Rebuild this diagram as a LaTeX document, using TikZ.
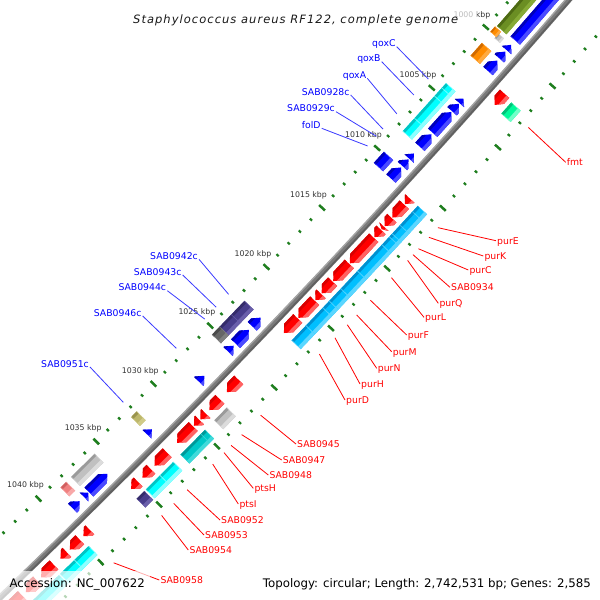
\documentclass[tikz,border=0pt]{standalone}
\usepackage{fontspec}
\setmainfont{DejaVu Sans}
\definecolor{redB}{HTML}{FF0000}\definecolor{redL}{HTML}{FF6262}\definecolor{redD}{HTML}{D80000}
\definecolor{bluB}{HTML}{0000FF}\definecolor{bluL}{HTML}{4A4AFF}\definecolor{bluD}{HTML}{0000B8}
\definecolor{aquaB}{HTML}{00FFFF}\definecolor{aquaL}{HTML}{8CFFFF}\definecolor{aquaD}{HTML}{00C4C4}
\definecolor{skyB}{HTML}{00BFFF}\definecolor{skyL}{HTML}{5AD6FF}\definecolor{skyD}{HTML}{0090D0}
\definecolor{tealB}{HTML}{00C8C8}\definecolor{tealL}{HTML}{40DADA}\definecolor{tealD}{HTML}{009898}
\definecolor{oliveB}{HTML}{6B8E23}\definecolor{oliveL}{HTML}{86AA36}\definecolor{oliveD}{HTML}{4E6A14}
\definecolor{orgB}{HTML}{FF8C00}\definecolor{orgL}{HTML}{FFAA40}\definecolor{orgD}{HTML}{D06A00}
\definecolor{silB}{HTML}{C0C0C0}\definecolor{silL}{HTML}{DCDCDC}\definecolor{silD}{HTML}{9A9A9A}
\definecolor{dgrB}{HTML}{666666}\definecolor{dgrL}{HTML}{808080}\definecolor{dgrD}{HTML}{4A4A4A}
\definecolor{slateB}{HTML}{483D8B}\definecolor{slateL}{HTML}{6A5FAA}\definecolor{slateD}{HTML}{352C6A}
\definecolor{khakiB}{HTML}{BDB76B}\definecolor{khakiL}{HTML}{D0CB88}\definecolor{khakiD}{HTML}{9A944E}
\definecolor{pinkB}{HTML}{F08080}\definecolor{pinkL}{HTML}{F8A8A8}\definecolor{pinkD}{HTML}{D06060}
\definecolor{sgB}{HTML}{00FA9A}\definecolor{sgL}{HTML}{70FFC8}\definecolor{sgD}{HTML}{00C078}
\definecolor{tickG}{HTML}{1E7E1E}
\definecolor{bbMid}{HTML}{7A7A7A}\definecolor{bbLight}{HTML}{A4A4A4}\definecolor{bbDark}{HTML}{606060}
\definecolor{kbpC}{HTML}{333333}
\definecolor{blueLine}{HTML}{3A3AFF}

% gene: u1, u2, vlo, vhi, scheme, shape (0 box, 1 arrow to -u, 2 arrow to +u)
\newcommand\gene[6]{%
 \pgfmathsetmacro\um{(#1+#2)/2}%
 \pgfmathsetmacro\hl{(#2-#1)/2}%
 \pgfmathsetmacro\hh{min(7,2*\hl)}%
 \pgfmathsetmacro\vm{(#3+#4)/2}%
 \pgfmathsetmacro\va{#3+0.22*(#4-#3)}%
 \pgfmathsetmacro\vb{#4-0.3*(#4-#3)}%
 \begin{scope}[along=\um]
  \begin{scope}
  \ifcase#6 \path[clip] (-\hl,#3) rectangle (\hl,#4);
  \or \path[clip] (-\hl,\vm) -- ({-\hl+\hh},#3) -- (\hl,#3) -- (\hl,#4) -- ({-\hl+\hh},#4) -- cycle;
  \or \path[clip] (\hl,\vm) -- ({\hl-\hh},#3) -- (-\hl,#3) -- (-\hl,#4) -- ({\hl-\hh},#4) -- cycle;
  \fi
  \fill[#5B] ({-\hl-1},{#3-1}) rectangle ({\hl+1},{#4+1});
  \fill[#5D] ({-\hl-1},{#3-1}) rectangle ({\hl+1},\va);
  \fill[#5L] ({-\hl-1},\vb) rectangle ({\hl+1},{#4+1});
  \ifnum#6=0 \draw[#5L, line width=0.7pt] (-\hl,#3) -- (-\hl,#4) (\hl,#3) -- (\hl,#4);\fi
  \end{scope}
 \end{scope}}
\newcommand\rorf[4]{\gene{#1}{#2}{7.5}{20}{#3}{#4}}
\newcommand\rsec[4]{\gene{#1}{#2}{24.5}{37}{#3}{#4}}
\newcommand\borf[4]{\gene{#1}{#2}{-20}{-7.5}{#3}{#4}}
\newcommand\bsec[4]{\gene{#1}{#2}{-37}{-24.5}{#3}{#4}}

\newcommand\rlab[5]{%
 \begin{scope}[along=#2]\coordinate (c#1) at (0,54);\end{scope}
 \node[rlbl] (l#1) at (#3,#4) {#5};
 \draw[rline] (c#1) -- (l#1.west);}
\newcommand\blab[5]{%
 \begin{scope}[along=#2]\coordinate (c#1) at (0,-53);\end{scope}
 \node[blbl] (l#1) at (#3,#4) {#5};
 \draw[bline] (c#1) -- (l#1.base east);}

\begin{document}
\begin{tikzpicture}[x=1pt,y=-1pt,
  along/.style={shift={({298.1+0.68835*(#1)-0.72537*((#1)/134.164)*((#1)/134.164)},{298.2-0.72537*(#1)-0.68835*((#1)/134.164)*((#1)/134.164)})},rotate={46.5+0.0063662*(#1)}},
  rlbl/.style={anchor=west, inner sep=1pt, text height=6.8pt, text depth=0pt, text=red, font=\fontsize{9.3}{11}\selectfont},
  blbl/.style={anchor=base east, inner sep=1pt, text=blue, font=\fontsize{9.3}{11}\selectfont},
  rline/.style={draw=red, line width=0.8pt},
  bline/.style={draw=blueLine, line width=0.8pt},
  kbp/.style={inner sep=0pt, text=kbpC, font=\fontsize{7.8}{9}\selectfont},
  veil/.style={fill=white, opacity=0.68}]
\useasboundingbox (0,0) rectangle (600,600);
\fill[white] (0,0) rectangle (600,600);

% backbone
\draw[line width=5.8pt, bbMid] plot[domain=-480:480, samples=49, variable=\t] ({298.1+0.68835*\t-0.72537*(\t/134.164)*(\t/134.164)}, {298.2-0.72537*\t-0.68835*(\t/134.164)*(\t/134.164)});
\draw[line width=1.4pt, bbLight] plot[domain=-480:480, samples=49, variable=\t] ({298.1-1.9+0.68835*\t-0.72537*(\t/134.164)*(\t/134.164)}, {298.2-1.8-0.72537*\t-0.68835*(\t/134.164)*(\t/134.164)});
\draw[line width=1.6pt, bbDark] plot[domain=-480:480, samples=49, variable=\t] ({298.1+1.2+0.68835*\t-0.72537*(\t/134.164)*(\t/134.164)}, {298.2+1.1-0.72537*\t-0.68835*(\t/134.164)*(\t/134.164)});

% ticks
\foreach \k in {990,...,1050}{
 \pgfmathsetmacro\uk{82.5-(\k-1015)*16.33}
 \pgfmathtruncatemacro\maj{mod(\k,5)==0 ? 1 : 0}
 \begin{scope}[along=\uk]
  \ifnum\maj=1
   \fill[tickG] (-1.25,-48.5) rectangle (1.25,-40.5);
   \fill[tickG] (-1.25,40.5) rectangle (1.25,48.5);
  \else
   \fill[tickG] (-1.1,-46) rectangle (1.1,-43);
   \fill[tickG] (-1.1,43) rectangle (1.1,46);
  \fi
 \end{scope}}
\foreach \k in {1000,1005,...,1040}{
 \pgfmathsetmacro\uk{82.5-(\k-1015)*16.33}
 \begin{scope}[along=\uk]\node[kbp] (k\k) at (0,-63) {\k~kbp};\end{scope}}

% inner ORFs (blue)
\borf{337}{470}{blu}{0}
\borf{324}{331}{blu}{2}
\borf{313}{322}{blu}{2}
\borf{296}{310}{blu}{2}
\borf{253}{259}{blu}{2}
\borf{242}{252}{blu}{2}
\borf{213}{241}{blu}{2}
\borf{194}{211}{blu}{2}
\borf{178}{185}{blu}{2}
\borf{168}{177}{blu}{2}
\borf{151}{166}{blu}{2}
\borf{-52}{-40}{blu}{2}
\borf{-76}{-57}{blu}{2}
\borf{-87}{-79}{blu}{2}
\borf{-129}{-121}{blu}{2}
\borf{-203}{-196}{blu}{2}
\borf{-285}{-259}{blu}{2}
\borf{-292}{-286}{blu}{2}
\borf{-308}{-298}{blu}{2}
% inner second track
\bsec{336}{470}{olive}{0}
\gene{325}{331}{-30.5}{-23.5}{sil}{0}
\gene{327}{334}{-38}{-30}{org}{0}
\bsec{296}{313}{org}{0}
\bsec{194}{211.5}{aqua}{0}\bsec{211.5}{241.5}{aqua}{0}\bsec{241.5}{252.5}{aqua}{0}\bsec{252.5}{259}{aqua}{0}
\bsec{151}{166}{blu}{0}
\bsec{-58}{-39}{slate}{0}\bsec{-75}{-58}{slate}{0}
\bsec{-86}{-75}{dgr}{0}
\bsec{-202}{-194}{khaki}{0}
\bsec{-287}{-254}{sil}{0}
\bsec{-302}{-294}{pink}{0}

% outer ORFs (red)
\rorf{275}{290}{red}{1}
\rorf{141.5}{149}{red}{1}
\rorf{123.2}{140.7}{red}{1}
\rorf{111.6}{122.4}{red}{1}
\rorf{107.3}{110.8}{red}{1}
\rorf{96.6}{106.5}{red}{1}
\rorf{60.8}{95.8}{red}{1}
\rorf{36.5}{60}{red}{1}
\rorf{19.7}{35.7}{red}{1}
\rorf{10.4}{18.9}{red}{1}
\rorf{-14.1}{9.6}{red}{1}
\rorf{-35}{-14.9}{red}{1}
\rorf{-117}{-100}{red}{1}
\rorf{-142}{-127}{red}{1}
\rorf{-155}{-147}{red}{1}
\rorf{-164}{-156}{red}{1}
\rorf{-188}{-165}{red}{1}
\rorf{-220}{-202}{red}{1}
\rorf{-237}{-225}{red}{1}
\rorf{-253}{-243}{red}{1}
\rorf{-320}{-311}{red}{1}
\rorf{-339}{-325}{red}{1}
\rorf{-352}{-343}{red}{1}
\rorf{-379}{-361}{red}{1}
\rorf{-400}{-384}{red}{1}
\rorf{-430}{-405}{red}{1}
% outer second track
\rsec{273}{288}{sg}{0}
\rsec{141.1}{149}{sky}{0}\rsec{122.8}{141.1}{sky}{0}\rsec{111.2}{122.8}{sky}{0}\rsec{107.1}{111.2}{sky}{0}
\rsec{96.2}{107.1}{sky}{0}\rsec{60.4}{96.2}{sky}{0}\rsec{36.1}{60.4}{sky}{0}\rsec{19.3}{36.1}{sky}{0}
\rsec{10}{19.3}{sky}{0}\rsec{-14.5}{10}{sky}{0}\rsec{-35}{-14.5}{sky}{0}
\rsec{-146}{-128}{sil}{0}
\rsec{-194}{-165}{teal}{0}\rsec{-165}{-159}{teal}{0}
\rsec{-243}{-223}{aqua}{0}\rsec{-223}{-204}{aqua}{0}
\rsec{-256}{-245}{slate}{0}
\rsec{-343}{-323}{aqua}{0}\rsec{-363}{-343}{aqua}{0}\rsec{-420}{-364}{aqua}{0}

% red labels
\rlab{fmt}{280.7}{565.7}{162.3}{fmt}
\rlab{purE}{146.5}{496}{240.7}{purE}
\rlab{purK}{133.4}{483.3}{256}{purK}
\rlab{purC}{118}{468.3}{270}{purC}
\rlab{s934}{110}{450}{287.3}{SAB0934}
\rlab{purQ}{102.2}{438.3}{303.3}{purQ}
\rlab{purL}{78.7}{424}{317.3}{purL}
\rlab{purF}{48}{406.7}{335}{purF}
\rlab{purM}{28}{391.7}{351.7}{purM}
\rlab{purN}{14.5}{376.7}{368.3}{purN}
\rlab{purH}{-3.3}{360}{384}{purH}
\rlab{purD}{-25.7}{345}{400}{purD}
\rlab{s945}{-110}{296}{444}{SAB0945}
\rlab{s947}{-137}{281.7}{460}{SAB0947}
\rlab{s948}{-152}{268.3}{475}{SAB0948}
\rlab{ptsH}{-162}{253.3}{488.3}{ptsH}
\rlab{ptsI}{-178}{238.3}{504}{ptsI}
\rlab{s952}{-214}{220}{520}{SAB0952}
\rlab{s953}{-233}{204}{535}{SAB0953}
\rlab{s954}{-250}{188.3}{550}{SAB0954}
\rlab{s958}{-317}{159.3}{580}{SAB0958}
% blue labels
\blab{qoxC}{250.1}{396.7}{46.7}{qoxC}
\blab{qoxB}{228.4}{381.7}{61.7}{qoxB}
\blab{qoxA}{202.9}{367.3}{78.3}{qoxA}
\blab{s928}{182.2}{350.7}{95}{SAB0928c}
\blab{s929}{172.4}{336}{111.7}{SAB0929c}
\blab{folD}{159.2}{321.7}{128.3}{folD}
\blab{s942}{-45.3}{199}{259.3}{SAB0942c}
\blab{s943}{-63.3}{182.7}{275}{SAB0943c}
\blab{s944}{-79.9}{167.3}{290.7}{SAB0944c}
\blab{s946}{-120.9}{142.7}{316}{SAB0946c}
\blab{s951}{-197}{90}{367}{SAB0951c}

% title and footer
\fill[veil] (122,2) rectangle (477,32);
\node[anchor=base west, inner sep=0pt, font=\fontsize{11.5}{13}\selectfont\itshape\addfontfeatures{LetterSpace=9}, text=black!90] (title) at (133,23.5) {Staphylococcus aureus RF122, complete genome};
\fill[veil] (0,571) rectangle (150,600);
\fill[veil] (255,571) rectangle (600,600);
\node[anchor=base west, inner sep=0pt, font=\fontsize{11.8}{13}\selectfont] (acc) at (9.3,587) {Accession: NC\_007622};
\node[anchor=base west, inner sep=0pt, font=\fontsize{11.8}{13}\selectfont] (topo) at (262.7,587) {Topology: circular; Length: 2,742,531 bp; Genes: 2,585};
\end{tikzpicture}
\end{document}
